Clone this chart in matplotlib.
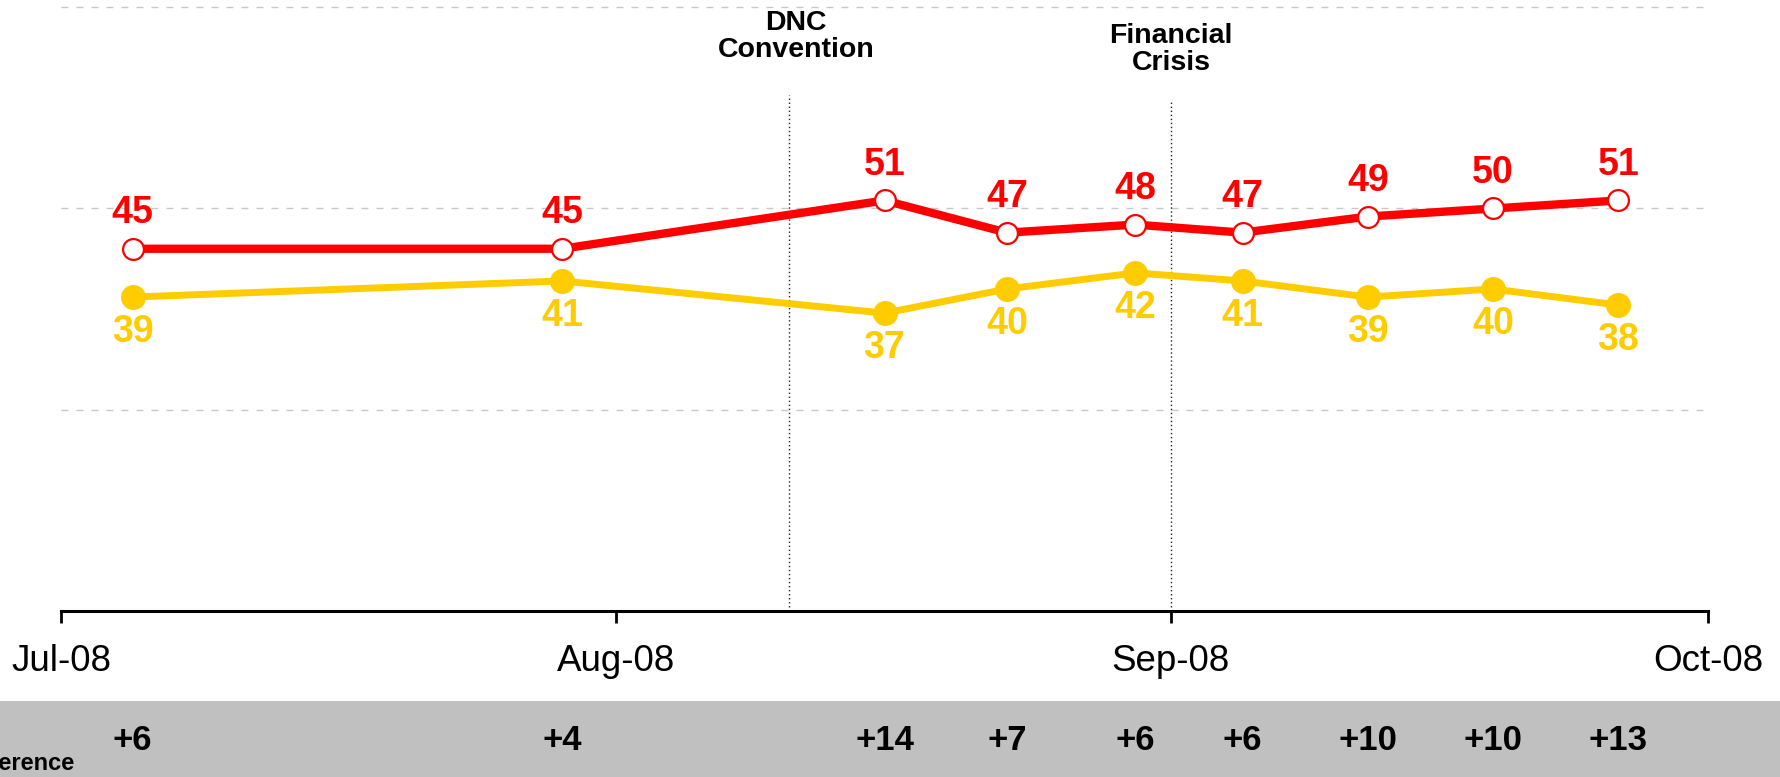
import matplotlib
matplotlib.use('Agg')
import matplotlib.pyplot as plt
import matplotlib.dates as mdates
import matplotlib.transforms as mtransforms
import numpy as np

# Poll data

pollDates = np.array(['2008-07-05', '2008-07-29', '2008-08-16', '2008-08-22 20:00',
                      '2008-08-30', '2008-09-05', '2008-09-12', '2008-09-19',
                      '2008-09-26'], dtype='datetime64[m]')
obamaVals = [45, 45, 51, 47, 48, 47, 49, 50, 51]
mccainVals = [39, 41, 37, 40, 42, 41, 39, 40, 38]
diffLabels = ['+6', '+4', '+14', '+7', '+6', '+6', '+10', '+10', '+13']

eventDates = np.array(['2008-08-10 16:00', '2008-09-01'], dtype='datetime64[m]')
eventLabels = ['DNC\nConvention', 'Financial\nCrisis']

RED = '#FF0000'
GOLD = '#FFCC00'
narrow = ['Liberation Sans Narrow', 'Liberation Sans', 'DejaVu Sans']
bold = ['Liberation Sans', 'DejaVu Sans']

fig = plt.figure(figsize=(17.8, 7.77), dpi=100)
ax = fig.add_axes([61/1780, 166/777, 1647/1780, 611/777])

x = mdates.date2num(pollDates.astype('datetime64[s]').astype(object))
xe = mdates.date2num(eventDates.astype('datetime64[s]').astype(object))

# gray band at the bottom (behind everything)
fig.patches.append(plt.Rectangle((0, 0), 1, 76/777, transform=fig.transFigure,
                                 facecolor='#C0C0C0', edgecolor='none', zorder=-5))

# grid
ax.set_ylim(0, 75.9)
ax.set_yticks([25, 50, 75])
ax.yaxis.grid(True, color='#C8C8C8', linewidth=1, linestyle=(0, (5, 5.8)))
ax.set_axisbelow(True)
ax.tick_params(axis='y', length=0, labelleft=False)

for s in ['left', 'right', 'top']:
    ax.spines[s].set_visible(False)
ax.spines['bottom'].set_linewidth(2.2)

# x axis
ax.set_xlim(mdates.datestr2num('2008-07-01'), mdates.datestr2num('2008-10-01'))
ax.xaxis.set_major_locator(mdates.MonthLocator())
ax.xaxis.set_major_formatter(mdates.DateFormatter('%b-%y'))
ax.tick_params(axis='x', direction='out', length=8.6, width=2, pad=15)
for lbl in ax.get_xticklabels():
    lbl.set_family(narrow)
    lbl.set_fontsize(26.5)

# event lines
ax.vlines(xe, 0, [64.1, 63.3], colors='#222222', linewidth=1.0,
          linestyles=[(0, (1, 1.9))], zorder=1)
offs = mtransforms.offset_copy(ax.transData, fig=fig, x=5, y=0, units='points')
ax.text(xe[0], 74.6, eventLabels[0], transform=offs, ha='center', va='top',
        fontsize=20.5, fontweight='bold', family=bold, linespacing=1.05)
ax.text(xe[1], 73.0, eventLabels[1], ha='center', va='top',
        fontsize=20.5, fontweight='bold', family=bold, linespacing=1.05)

# lines
ax.plot(x, obamaVals, color=RED, linewidth=6, marker='o', markersize=15,
        markerfacecolor='white', markeredgecolor=RED, markeredgewidth=1.6, zorder=4)
ax.plot(x, mccainVals, color=GOLD, linewidth=5, marker='o', markersize=17,
        markerfacecolor=GOLD, markeredgecolor=GOLD, zorder=3)

for xi, v in zip(x, obamaVals):
    ax.annotate(str(v), (xi, v), xytext=(0, 25.5), textcoords='offset points',
                ha='center', va='center', color=RED, fontsize=27,
                fontweight='bold', family=bold)
for xi, v in zip(x, mccainVals):
    ax.annotate(str(v), (xi, v), xytext=(0, -25), textcoords='offset points',
                ha='center', va='center', color=GOLD, fontsize=27,
                fontweight='bold', family=bold)

# difference row
trans = mtransforms.blended_transform_factory(ax.transData, fig.transFigure)
for xi, d in zip(x, diffLabels):
    fig.text(xi, 36/777, d, transform=trans, ha='center', va='center',
             fontsize=25, fontweight='bold', family=bold, zorder=5)
fig.text(75/1780, 14/777, 'Difference', ha='right', va='center',
         fontsize=17, fontweight='bold', family=bold, zorder=5)

fig.savefig('out.png', dpi=100)
